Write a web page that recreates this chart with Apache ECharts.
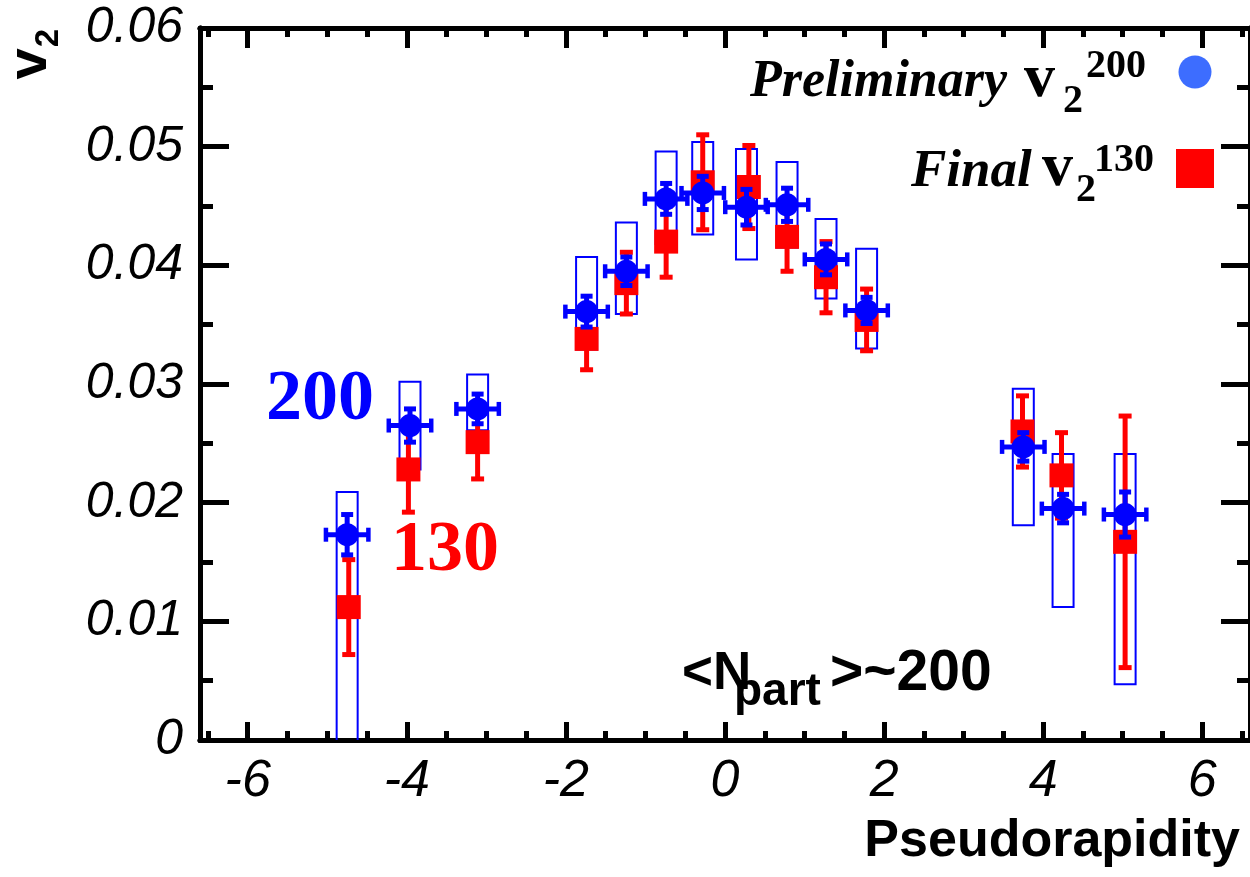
<!DOCTYPE html>
<html><head><meta charset="utf-8">
<script src="https://cdn.jsdelivr.net/npm/echarts@6/dist/echarts.min.js"></script>
<style>html,body{margin:0;padding:0;background:#fff}#c{width:1250px;height:877px}</style>
</head><body><div id="c"></div>
<script>
// ---- data: sqrt(s)=200 GeV (preliminary) ----
const eta200     = [-4.75, -3.96, -3.11, -1.74, -1.24, -0.74, -0.28, 0.27, 0.78, 1.27, 1.78, 3.75, 4.25, 5.03];
const v2_200     = [0.0173, 0.0265, 0.0279, 0.0361, 0.0395, 0.0456, 0.0461, 0.0449, 0.0451, 0.0405, 0.0362, 0.0247, 0.0195, 0.0190];
const stat200    = [0.0017, 0.0014, 0.00125, 0.0013, 0.0012, 0.0013, 0.0014, 0.0015, 0.0014, 0.0013, 0.0011, 0.0012, 0.0012, 0.0019];
const etaErr200  = [0.27, 0.27, 0.27, 0.27, 0.27, 0.27, 0.27, 0.27, 0.27, 0.27, 0.27, 0.27, 0.27, 0.27];
const sysLow200  = [-0.003, 0.0228, 0.0261, 0.0329, 0.0359, 0.0418, 0.0426, 0.0405, 0.0415, 0.0372, 0.0330, 0.0181, 0.0112, 0.0047];
const sysHigh200 = [0.0209, 0.0302, 0.0308, 0.0407, 0.0436, 0.0496, 0.0504, 0.0498, 0.0487, 0.0439, 0.0414, 0.0296, 0.0241, 0.0241];
// ---- data: sqrt(s)=130 GeV (final) ----
const eta130     = [-4.73, -3.98, -3.11, -1.74, -1.24, -0.74, -0.28, 0.30, 0.78, 1.27, 1.78, 3.74, 4.23, 5.03];
const v2_130     = [0.0112, 0.0228, 0.0251, 0.0338, 0.0385, 0.0420, 0.0470, 0.0466, 0.0424, 0.0390, 0.0354, 0.0260, 0.0223, 0.0167];
const err130     = [0.0040, 0.0036, 0.0031, 0.0026, 0.0026, 0.0030, 0.0040, 0.0035, 0.0029, 0.0030, 0.0026, 0.0030, 0.0036, 0.0106];
// ---- axis ticks ----
const xMajorTicks = [-6, -4, -2, 0, 2, 4, 6];
const xMinorTicks = [-6.5, -6, -5.5, -5, -4.5, -4, -3.5, -3, -2.5, -2, -1.5, -1, -0.5, 0, 0.5, 1, 1.5, 2, 2.5, 3, 3.5, 4, 4.5, 5, 5.5, 6, 6.5];
const yMajorTicks = [0, 0.01, 0.02, 0.03, 0.04, 0.05, 0.06];
const yMinorTicks = [0.005, 0.015, 0.025, 0.035, 0.045, 0.055];
const xRange = [-6.6, 6.6];
const yRange = [0, 0.06];

const BLUE = '#0000ff', RED = '#ff0000', BLACK = '#000';
const chart = echarts.init(document.getElementById('c'));

function xAx(pos, ticks, len, showLabel) {
  return {
    type: 'value', position: pos, min: xRange[0], max: xRange[1],
    axisLine: {show: true, onZero: false, lineStyle: {color: BLACK, width: 5}},
    axisTick: {show: true, inside: true, length: len, customValues: ticks, lineStyle: {color: BLACK, width: 5}},
    axisLabel: showLabel ? {show: true, customValues: ticks, margin: 16, color: BLACK,
      fontFamily: 'Liberation Sans', fontStyle: 'italic', fontSize: 52} : {show: false},
    splitLine: {show: false}
  };
}
function yAx(pos, ticks, len, showLabel) {
  return {
    type: 'value', position: pos, min: yRange[0], max: yRange[1],
    axisLine: {show: true, onZero: false, lineStyle: {color: BLACK, width: 5}},
    axisTick: {show: true, inside: true, length: len, customValues: ticks, lineStyle: {color: BLACK, width: 5}},
    axisLabel: showLabel ? {show: true, customValues: ticks, margin: 17, color: BLACK,
      fontFamily: 'Liberation Sans', fontStyle: 'italic', fontSize: 50,
      formatter: v => (v === 0 ? '0' : v.toFixed(2))} : {show: false},
    splitLine: {show: false}
  };
}

function boxItem(params, api) {
  const x = api.value(0), lo = api.value(1), hi = api.value(2);
  const a = api.coord([x, hi]), b = api.coord([x, lo]);
  return {type: 'rect', shape: {x: a[0] - 10.5, y: a[1], width: 21, height: b[1] - a[1]},
    style: {fill: 'none', stroke: BLUE, lineWidth: 2}};
}
function blueErrItem(params, api) {
  const x = api.value(0), y = api.value(1), e = api.value(2), ex = api.value(3);
  const top = api.coord([x, y + e]), bot = api.coord([x, y - e]);
  const l = api.coord([x - ex, y]), r = api.coord([x + ex, y]);
  const st = {fill: BLUE};
  return {type: 'group', children: [
    {type: 'rect', shape: {x: top[0] - 2.5, y: top[1], width: 5, height: bot[1] - top[1]}, style: st},
    {type: 'rect', shape: {x: top[0] - 6, y: top[1] - 2.5, width: 12, height: 5}, style: st},
    {type: 'rect', shape: {x: bot[0] - 6, y: bot[1] - 2.5, width: 12, height: 5}, style: st},
    {type: 'rect', shape: {x: l[0], y: l[1] - 2.5, width: r[0] - l[0], height: 5}, style: st},
    {type: 'rect', shape: {x: l[0] - 2, y: l[1] - 7, width: 4.5, height: 14}, style: st},
    {type: 'rect', shape: {x: r[0] - 2.5, y: r[1] - 7, width: 4.5, height: 14}, style: st}
  ]};
}
function redErrItem(params, api) {
  const x = api.value(0), y = api.value(1), e = api.value(2);
  const top = api.coord([x, y + e]), bot = api.coord([x, y - e]);
  const st = {fill: RED};
  return {type: 'group', children: [
    {type: 'rect', shape: {x: top[0] - 2.5, y: top[1], width: 5, height: bot[1] - top[1]}, style: st},
    {type: 'rect', shape: {x: top[0] - 6.5, y: top[1] - 2.5, width: 13, height: 5}, style: st},
    {type: 'rect', shape: {x: bot[0] - 6.5, y: bot[1] - 2.5, width: 13, height: 5}, style: st}
  ]};
}

function txt(x, y, text, size, opts) {
  return Object.assign({type: 'text', x: x, y: y, silent: true, z: 100,
    style: Object.assign({text: text, fill: BLACK, fontSize: size, fontFamily: 'Liberation Serif',
      fontWeight: 'bold', align: 'left', verticalAlign: 'middle'}, (opts && opts.style) || {})},
    (opts && opts.el) || {});
}

const option = {
  animation: false,
  backgroundColor: '#fff',
  grid: {left: 200, right: 0, top: 28, bottom: 137, containLabel: false},
  xAxis: [
    xAx('bottom', xMajorTicks, 18, true),
    xAx('bottom', xMinorTicks, 9, false),
    xAx('top', xMajorTicks, 20, false),
    xAx('top', xMinorTicks, 9, false)
  ],
  yAxis: [
    yAx('left', yMajorTicks, 29, true),
    yAx('left', yMinorTicks, 13, false),
    yAx('right', yMajorTicks, 29, false),
    yAx('right', yMinorTicks, 13, false)
  ],
  series: [
    {type: 'custom', name: 'sys200', z: 1, clip: true, silent: true, renderItem: boxItem,
      data: eta200.map((x, i) => [x, sysLow200[i], sysHigh200[i]])},
    {type: 'custom', name: 'err130', z: 2, clip: true, silent: true, renderItem: redErrItem,
      data: eta130.map((x, i) => [x, v2_130[i], err130[i]])},
    {type: 'scatter', name: 'Final v2 130', z: 3, symbol: 'rect', symbolSize: 24, silent: true,
      itemStyle: {color: RED, opacity: 1}, data: eta130.map((x, i) => [x, v2_130[i]])},
    {type: 'custom', name: 'err200', z: 4, clip: true, silent: true, renderItem: blueErrItem,
      data: eta200.map((x, i) => [x, v2_200[i], stat200[i], etaErr200[i]])},
    {type: 'scatter', name: 'Preliminary v2 200', z: 5, symbol: 'circle', symbolSize: 23, silent: true,
      itemStyle: {color: BLUE, opacity: 1}, data: eta200.map((x, i) => [x, v2_200[i]])}
  ],
  graphic: [
    // y-axis title v_2 (rotated)
    txt(31, 64, 'v', 56, {style: {fontFamily: 'Liberation Sans', align: 'center'}, el: {rotation: Math.PI / 2}}),
    txt(49, 38, '2', 33, {style: {fontFamily: 'Liberation Sans', align: 'center'}, el: {rotation: Math.PI / 2}}),
    // x-axis title
    txt(1240, 842, 'Pseudorapidity', 52, {style: {fontFamily: 'Liberation Sans', align: 'right'}}),
    // legend line 1
    txt(750, 83, 'Preliminary', 52, {style: {fontStyle: 'italic'}}),
    txt(1024, 80, 'v', 62),
    txt(1063, 102, '2', 40),
    txt(1086, 67, '200', 40),
    {type: 'circle', shape: {cx: 1195, cy: 72, r: 16.5}, style: {fill: '#3d6dff'}, z: 100, silent: true},
    // legend line 2
    txt(911, 172, 'Final', 53, {style: {fontStyle: 'italic'}}),
    txt(1042, 169, 'v', 62),
    txt(1076, 191, '2', 40),
    txt(1094, 161, '130', 40),
    {type: 'rect', shape: {x: 1176, y: 149, width: 38, height: 39}, style: {fill: RED}, z: 100, silent: true},
    // energy labels
    txt(320, 400, '200', 72, {style: {fill: BLUE, align: 'center'}}),
    txt(445, 551, '130', 72, {style: {fill: RED, align: 'center'}}),
    // centrality label
    txt(682, 674, '<N', 53, {style: {fontFamily: 'Liberation Sans'}}),
    txt(734, 692, 'part', 46, {style: {fontFamily: 'Liberation Sans'}}),
    txt(830, 674, '>~200', 57, {style: {fontFamily: 'Liberation Sans'}})
  ]
};
chart.setOption(option);
</script>
</body></html>
